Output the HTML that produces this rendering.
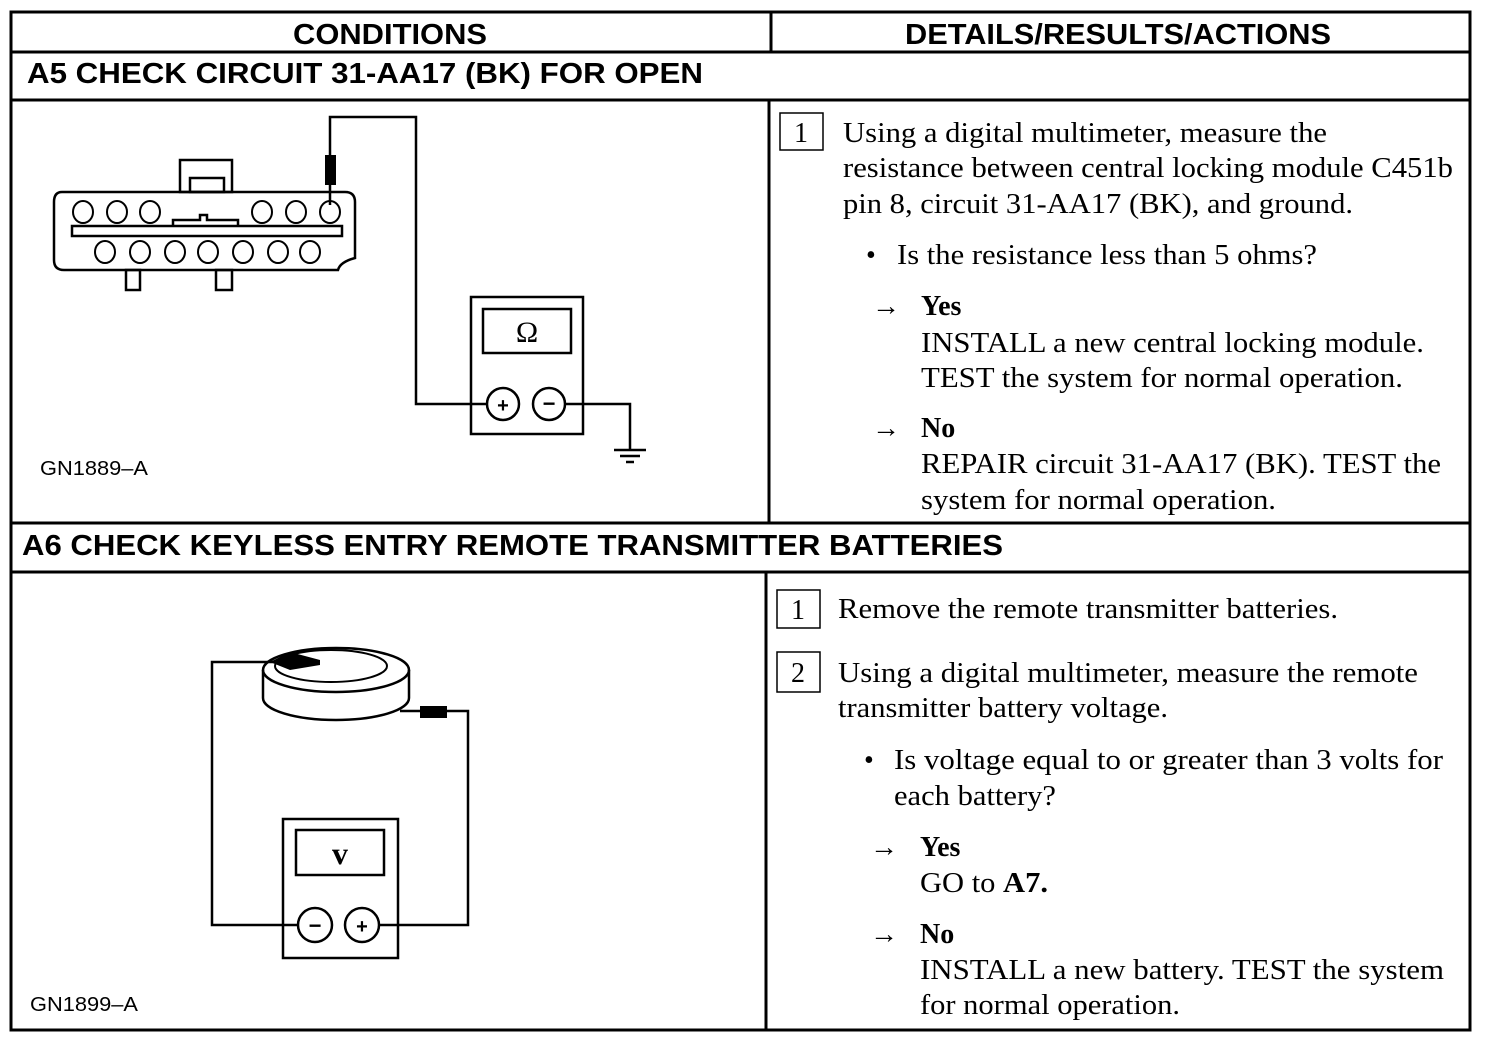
<!DOCTYPE html>
<html><head><meta charset="utf-8"><style>
html,body{margin:0;padding:0;background:#fff;}
svg{display:block}
.s{font-family:"Liberation Serif",serif;font-size:28px;fill:#000}
.h{font-family:"Liberation Sans",sans-serif;font-weight:bold;fill:#000}
</style></head><body>
<svg width="1504" height="1044" viewBox="0 0 1504 1044" xmlns="http://www.w3.org/2000/svg">
<g fill="none" stroke="#000" stroke-width="3">
<rect x="11" y="12" width="1459" height="1018"/>
<line x1="11" y1="52" x2="1470" y2="52"/>
<line x1="11" y1="100" x2="1470" y2="100"/>
<line x1="11" y1="523" x2="1470" y2="523"/>
<line x1="11" y1="572" x2="1470" y2="572"/>
<line x1="771" y1="12" x2="771" y2="52"/>
<line x1="769" y1="100" x2="769" y2="523"/>
<line x1="766" y1="572" x2="766" y2="1030"/>
</g>
<text class="h" x="390" y="44" font-size="29" text-anchor="middle" textLength="194" lengthAdjust="spacingAndGlyphs">CONDITIONS</text>
<text class="h" x="1118" y="44" font-size="29" text-anchor="middle" textLength="426" lengthAdjust="spacingAndGlyphs">DETAILS/RESULTS/ACTIONS</text>
<text class="h" x="27" y="83" font-size="29" textLength="676" lengthAdjust="spacingAndGlyphs">A5  CHECK CIRCUIT 31-AA17 (BK) FOR OPEN</text>
<text class="h" x="22" y="555" font-size="29" textLength="981" lengthAdjust="spacingAndGlyphs">A6  CHECK KEYLESS ENTRY REMOTE TRANSMITTER BATTERIES</text>

<!-- A5 diagram -->
<g fill="none" stroke="#000" stroke-width="2.5">
<rect x="180" y="160" width="52" height="32"/>
<rect x="190" y="178" width="34" height="14"/>
<path d="M62 192 H345 Q355 192 355 202 V258 Q340 262 338 270 H64 Q54 270 54 260 V202 Q54 192 62 192 Z"/>
<rect x="126" y="270" width="14" height="20"/>
<rect x="216" y="270" width="16" height="20"/>
<rect x="72" y="226" width="270" height="10"/>
<path d="M173 225 V220 H200 V215 H207 V220 H238 V225"/>
<g stroke-width="2">
<ellipse cx="83" cy="212" rx="10" ry="11"/><ellipse cx="117" cy="212" rx="10" ry="11"/><ellipse cx="150" cy="212" rx="10" ry="11"/>
<ellipse cx="262" cy="212" rx="10" ry="11"/><ellipse cx="296" cy="212" rx="10" ry="11"/><ellipse cx="330" cy="212" rx="10" ry="11"/>
<ellipse cx="105" cy="252" rx="10" ry="11"/><ellipse cx="140" cy="252" rx="10" ry="11"/><ellipse cx="175" cy="252" rx="10" ry="11"/>
<ellipse cx="208" cy="252" rx="10" ry="11"/><ellipse cx="243" cy="252" rx="10" ry="11"/><ellipse cx="278" cy="252" rx="10" ry="11"/><ellipse cx="310" cy="252" rx="10" ry="11"/>
</g>
<path d="M330 205 V117 H416 V404 H488"/>
<rect x="471" y="297" width="112" height="137"/>
<rect x="483" y="309" width="88" height="44"/>
<circle cx="503" cy="404" r="16"/>
<circle cx="549" cy="404" r="16"/>
<path d="M565 404 H630 V450"/>
<line x1="614" y1="450" x2="646" y2="450"/>
<line x1="620" y1="456" x2="640" y2="456"/>
<line x1="626" y1="462" x2="634" y2="462"/>
</g>
<rect x="325" y="155" width="11" height="30" fill="#000"/>
<text x="527" y="342" font-family="Liberation Serif,serif" font-size="30" text-anchor="middle">Ω</text>
<text x="503" y="412" font-family="Liberation Sans,sans-serif" font-weight="bold" font-size="20" text-anchor="middle">+</text>
<text x="549" y="411" font-family="Liberation Sans,sans-serif" font-weight="bold" font-size="22" text-anchor="middle">−</text>
<text x="40" y="475" font-family="Liberation Sans,sans-serif" font-size="20" textLength="108" lengthAdjust="spacingAndGlyphs">GN1889–A</text>

<!-- A6 diagram -->
<g fill="none" stroke="#000" stroke-width="2.5">
<path d="M263 670 V698 A73 22 0 0 0 409 698 V670"/>
<ellipse cx="336" cy="670" rx="73" ry="22"/>
<ellipse cx="331" cy="666" rx="56" ry="16" stroke-width="2"/>
<path d="M320 662 H212 V925 H298"/>
<path d="M400 711 H468 V925 H379"/>
<rect x="283" y="819" width="115" height="139"/>
<rect x="296" y="830" width="88" height="45"/>
<circle cx="315" cy="925" r="17"/>
<circle cx="362" cy="925" r="17"/>
</g>
<path d="M270 662 L290 652 L320 660 L320 665 L290 670 Z" fill="#000"/>
<rect x="420" y="706" width="27" height="12" fill="#000"/>
<text x="340" y="864" font-family="Liberation Serif,serif" font-weight="bold" font-size="32" text-anchor="middle">v</text>
<text x="315" y="933" font-family="Liberation Sans,sans-serif" font-weight="bold" font-size="22" text-anchor="middle">−</text>
<text x="362" y="933" font-family="Liberation Sans,sans-serif" font-weight="bold" font-size="20" text-anchor="middle">+</text>
<text x="30" y="1011" font-family="Liberation Sans,sans-serif" font-size="20" textLength="108" lengthAdjust="spacingAndGlyphs">GN1899–A</text>

<!-- A5 text -->
<g class="s">
<rect x="780" y="113" width="43" height="37" fill="none" stroke="#000" stroke-width="1.5"/>
<text class="s" x="801" y="142" text-anchor="middle">1</text>
<text class="s" x="843" y="142" textLength="484" lengthAdjust="spacingAndGlyphs">Using a digital multimeter, measure the</text>
<text class="s" x="843" y="177" textLength="610" lengthAdjust="spacingAndGlyphs">resistance between central locking module C451b</text>
<text class="s" x="843" y="213" textLength="510" lengthAdjust="spacingAndGlyphs">pin 8, circuit 31-AA17 (BK), and ground.</text>
<text class="s" x="866" y="264">•</text>
<text class="s" x="897" y="264" textLength="420" lengthAdjust="spacingAndGlyphs">Is the resistance less than 5 ohms?</text>
<text class="s" x="872" y="315" font-size="24">→</text>
<text class="s" x="921" y="315" font-weight="bold">Yes</text>
<text class="s" x="921" y="352" textLength="503" lengthAdjust="spacingAndGlyphs">INSTALL a new central locking module.</text>
<text class="s" x="921" y="387" textLength="482" lengthAdjust="spacingAndGlyphs">TEST the system for normal operation.</text>
<text class="s" x="872" y="437" font-size="24">→</text>
<text class="s" x="921" y="437" font-weight="bold">No</text>
<text class="s" x="921" y="473" textLength="520" lengthAdjust="spacingAndGlyphs">REPAIR circuit 31-AA17 (BK). TEST the</text>
<text class="s" x="921" y="509" textLength="355" lengthAdjust="spacingAndGlyphs">system for normal operation.</text>

<!-- A6 text -->
<rect x="777" y="590" width="43" height="38" fill="none" stroke="#000" stroke-width="1.5"/>
<text class="s" x="798" y="619" text-anchor="middle">1</text>
<text class="s" x="838" y="618" textLength="500" lengthAdjust="spacingAndGlyphs">Remove the remote transmitter batteries.</text>
<rect x="777" y="652" width="43" height="40" fill="none" stroke="#000" stroke-width="1.5"/>
<text class="s" x="798" y="682" text-anchor="middle">2</text>
<text class="s" x="838" y="682" textLength="580" lengthAdjust="spacingAndGlyphs">Using a digital multimeter, measure the remote</text>
<text class="s" x="838" y="717" textLength="330" lengthAdjust="spacingAndGlyphs">transmitter battery voltage.</text>
<text class="s" x="864" y="769">•</text>
<text class="s" x="894" y="769" textLength="549" lengthAdjust="spacingAndGlyphs">Is voltage equal to or greater than 3 volts for</text>
<text class="s" x="894" y="805" textLength="162" lengthAdjust="spacingAndGlyphs">each battery?</text>
<text class="s" x="870" y="856" font-size="24">→</text>
<text class="s" x="920" y="856" font-weight="bold">Yes</text>
<text class="s" x="920" y="892" textLength="128" lengthAdjust="spacingAndGlyphs">GO to <tspan font-weight="bold">A7.</tspan></text>
<text class="s" x="870" y="943" font-size="24">→</text>
<text class="s" x="920" y="943" font-weight="bold">No</text>
<text class="s" x="920" y="979" textLength="524" lengthAdjust="spacingAndGlyphs">INSTALL a new battery. TEST the system</text>
<text class="s" x="920" y="1014" textLength="260" lengthAdjust="spacingAndGlyphs">for normal operation.</text>
</g>
</svg>
</body></html>
